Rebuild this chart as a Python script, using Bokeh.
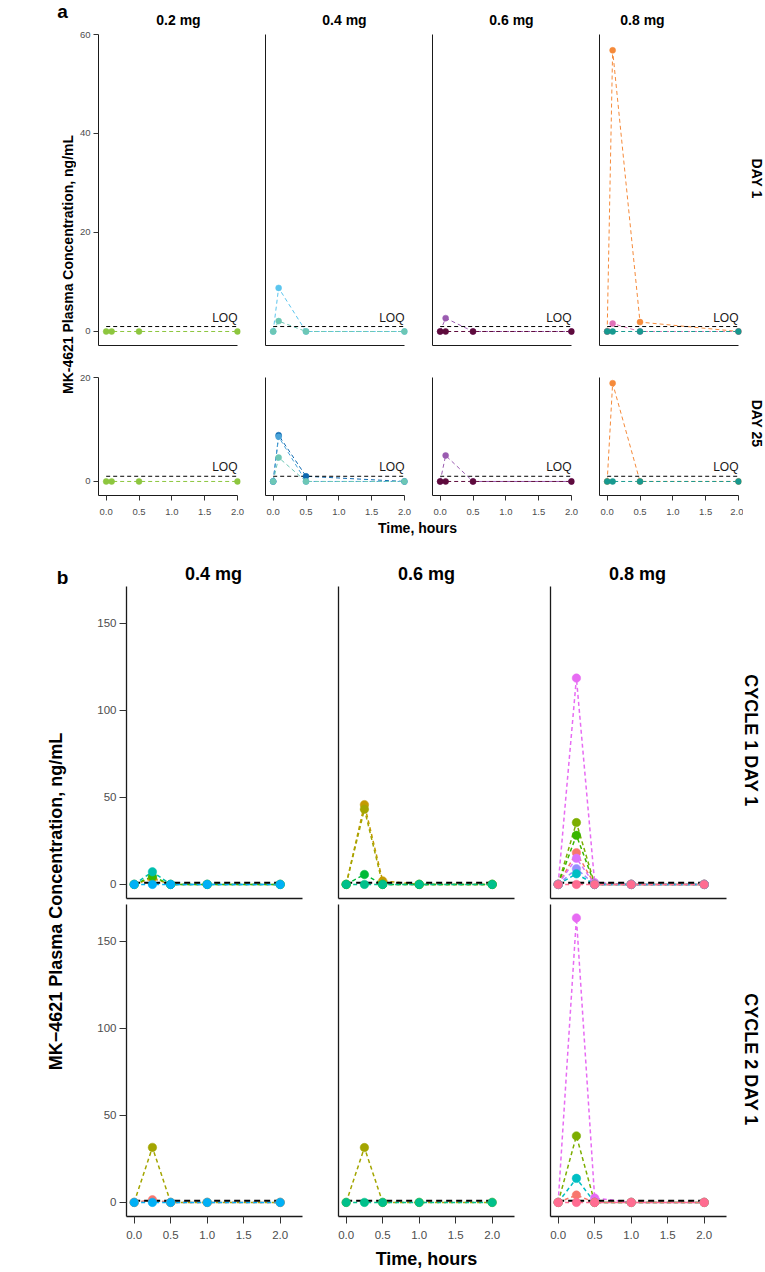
import math
from bokeh.plotting import figure
from bokeh.layouts import row, column
from bokeh.models import Range1d, FixedTicker, NumeralTickFormatter
from bokeh.core.properties import value
from bokeh.embed import file_html
from bokeh.resources import INLINE

FONT = "Liberation Sans"

# ---------------- data : panel a ----------------
TIME_A = [0.0, 0.083, 0.5, 2.0]
LOQ_A = 1.0
DOSES_A = ["0.2 mg", "0.4 mg", "0.6 mg", "0.8 mg"]
DAYS_A = ["DAY 1", "DAY 25"]
YTICKS_A_DAY1 = [0, 20, 40, 60]
YTICKS_A_DAY25 = [0, 20]
XTICKS = [0.0, 0.5, 1.0, 1.5, 2.0]

A_DAY1_02 = [[0, 0, 0, 0]]
A_DAY1_04 = [[0, 8.8, 0, 0], [0, 2.1, 0, 0]]
A_DAY1_06 = [[0, 2.7, 0, 0], [0, 0, 0, 0]]
A_DAY1_08 = [[0, 56.8, 1.9, 0], [0, 1.6, 0, 0], [0, 0, 0, 0]]
A_DAY25_02 = [[0, 0, 0, 0]]
A_DAY25_04 = [[0, 8.9, 1.0, 0], [0, 8.6, 0, 0], [0, 4.6, 0, 0]]
A_DAY25_06 = [[0, 5.0, 0, 0], [0, 0, 0, 0]]
A_DAY25_08 = [[0, 18.9, 0, 0], [0, 0, 0, 0]]

# ---------------- data : panel b ----------------
TIME_B = [0.0, 0.25, 0.5, 1.0, 2.0]
LOQ_B = 1.0
DOSES_B = ["0.4 mg", "0.6 mg", "0.8 mg"]
CYCLES_B = ["CYCLE 1 DAY 1", "CYCLE 2 DAY 1"]
YTICKS_B = [0, 50, 100, 150]

B_C1_04 = [[0, 3.5, 0, 0, 0], [0, 4.5, 0, 0, 0], [0, 7.2, 0, 0, 0], [0, 0, 0, 0, 0]]
B_C1_06 = [[0, 45.8, 2.0, 0, 0], [0, 43.2, 0, 0, 0], [0, 5.7, 0, 0, 0], [0, 0, 0, 0, 0]]
B_C1_08 = [[0, 118.5, 1.0, 0, 0], [0, 35.5, 0, 0, 0], [0, 28.2, 0, 0, 0], [0, 18.2, 0, 0, 0],
           [0, 15.0, 0, 0, 0], [0, 9.0, 0, 0, 0], [0, 6.1, 0, 0, 0], [0, 0, 0, 0, 0]]
B_C2_04 = [[0, 31.6, 0, 0, 0], [0, 1.5, 0, 0, 0], [0, 0, 0, 0, 0]]
B_C2_06 = [[0, 31.5, 0, 0, 0], [0, 0, 0, 0, 0]]
B_C2_08 = [[0, 163.4, 2.5, 0, 0], [0, 38.2, 0, 0, 0], [0, 13.8, 0, 0, 0], [0, 4.2, 0, 0, 0], [0, 0, 0, 0, 0]]

# ---------------- colours (styles) ----------------
COL_A_DAY1 = [["#8dc63f"], ["#5bc5ee", "#6dc7b5"], ["#9a5bb0", "#5e0b3c"], ["#f58a3a", "#e070b8", "#17998f"]]
COL_A_DAY25 = [["#8dc63f"], ["#0d68b0", "#4aa3d8", "#6dc7b5"], ["#9a5bb0", "#5e0b3c"], ["#f58a3a", "#17998f"]]
COL_B_C1 = [["#D89000", "#39B600", "#00BFAE", "#00B0F6"],
            ["#C49A00", "#A3A500", "#00BA38", "#00C08B"],
            ["#E76BF3", "#7CAE00", "#39B600", "#F8766D", "#DB72FB", "#9590FF", "#00BFC4", "#FF6C91"]]
COL_B_C2 = [["#A3A500", "#F8766D", "#00B0F6"],
            ["#A3A500", "#00C08B"],
            ["#E76BF3", "#7CAE00", "#00BFC4", "#F8766D", "#FF6C91"]]


def canvas(w, h):
    p = figure(width=w, height=h, x_range=Range1d(0, w), y_range=Range1d(h, 0),
               x_axis_type=None, y_axis_type=None, output_backend="svg",
               toolbar_location=None, min_border=0)
    p.min_border_left = p.min_border_right = p.min_border_top = p.min_border_bottom = 0
    p.outline_line_color = None
    p.background_fill_color = "white"
    p.border_fill_color = "white"
    return p


def put_text(p, x, y, txt, size, bold=True, angle=0.0):
    p.text(x=[x], y=[y], text=[txt], text_font=value(FONT), text_font_size=size,
           text_font_style="bold" if bold else "normal", text_color="black",
           text_align="center", text_baseline="middle", angle=angle)


def panel(w, h, xr, yr, bl, br, bt, bb, xticks, yticks, tick_out, lab_size, axis_lw,
          x_standoff, xbounds=None):
    p = figure(width=w, height=h, x_range=Range1d(*xr), y_range=Range1d(*yr),
               output_backend="svg", toolbar_location=None,
               min_border_left=bl, min_border_right=br, min_border_top=bt, min_border_bottom=bb)
    p.outline_line_color = None
    p.grid.visible = False
    p.background_fill_color = "white"
    for ax in (p.xaxis[0], p.yaxis[0]):
        ax.axis_line_color = "#1a1a1a"
        ax.axis_line_width = axis_lw
        ax.major_tick_line_color = "#333333"
        ax.major_tick_out = tick_out
        ax.major_tick_in = 0
        ax.minor_tick_line_color = None
        ax.major_label_text_font = FONT
        ax.major_label_text_font_size = lab_size
        ax.major_label_text_color = "#4d4d4d"
        ax.major_label_standoff = 3
    p.xaxis[0].major_label_standoff = x_standoff
    p.xaxis[0].ticker = FixedTicker(ticks=xticks)
    p.yaxis[0].ticker = FixedTicker(ticks=yticks)
    p.xaxis[0].formatter = NumeralTickFormatter(format="0.0")
    if xbounds is not None:
        p.xaxis[0].bounds = xbounds
    return p


def draw(p, t, series, colors, loq, size, lw, dash, loq_lw, loq_dash, loq_text):
    for ys, c in zip(series, colors):
        p.line(t, ys, line_color=c, line_width=lw, line_dash=dash)
    p.line([t[0], t[-1]], [loq, loq], line_color="black", line_width=loq_lw, line_dash=loq_dash)
    if loq_text:
        p.text(x=[t[-1]], y=[loq], text=["LOQ"], text_font=value(FONT), text_font_size="12px",
               text_color="#1a1a1a", text_align="right", text_baseline="middle", y_offset=-9)
    for ys, c in zip(series, colors):
        p.scatter(t, ys, size=size, fill_color=c, line_color=c, line_width=0.5)


# ================= panel a =================
XR_A = (-0.117, 2.046)
YR_A1 = (-2.83, 60.0)
YR_A2 = (-2.7, 20.0)
WA = [174, 167, 167, 159]
BLA = [22, 15, 15, 15]
BRA = [10, 10, 10, 2]
data_a1 = [A_DAY1_02, A_DAY1_04, A_DAY1_06, A_DAY1_08]
data_a2 = [A_DAY25_02, A_DAY25_04, A_DAY25_06, A_DAY25_08]

row1a, row2a = [], []
for i in range(4):
    p = panel(WA[i], 328, XR_A, YR_A1, BLA[i], BRA[i], 5, 12, [],
              YTICKS_A_DAY1 if i == 0 else [], 5, "9.5px", 1.0, 8, xbounds=(XR_A[0], 2.0))
    draw(p, TIME_A, data_a1[i], COL_A_DAY1[i], LOQ_A, 6, 1.0, "4 3", 1.0, "4 3", True)
    row1a.append(p)
    q = panel(WA[i], 162, XR_A, YR_A2, BLA[i], BRA[i], 20, 24, XTICKS,
              YTICKS_A_DAY25 if i == 0 else [], 5, "9.5px", 1.0, 8, xbounds=(XR_A[0], 2.0))
    draw(q, TIME_A, data_a2[i], COL_A_DAY25[i], LOQ_A, 6, 1.0, "4 3", 1.0, "4 3", True)
    row2a.append(q)

top_a = canvas(sum(WA), 29)
for x, d in zip([102, 268, 435, 566], DOSES_A):
    put_text(top_a, x, 19.5, d, "14px")
bot_a = canvas(sum(WA), 21)
put_text(bot_a, 341, 8, "Time, hours", "14px")
left_a = canvas(76, 540)
put_text(left_a, 62, 11, "a", "19px")
put_text(left_a, 67, 264, "MK-4621 Plasma Concentration, ng/mL", "14px", angle=math.pi / 2)
right_a = canvas(21, 540)
put_text(right_a, 13.5, 178, DAYS_A[0], "14px", angle=-math.pi / 2)
put_text(right_a, 13.5, 423, DAYS_A[1], "14px", angle=-math.pi / 2)

block_a = row(left_a, column(top_a, row(*row1a), row(*row2a), bot_a), right_a)

# ================= panel b =================
XR_B = (-0.105, 2.306)
YR_B = (-8.1, 171.1)
WB = [230, 212, 204]
BLB = [36, 18, 18]
BRB = [18, 18, 10]
data_b1 = [B_C1_04, B_C1_06, B_C1_08]
data_b2 = [B_C2_04, B_C2_06, B_C2_08]

row1b, row2b = [], []
for i in range(3):
    p = panel(WB[i], 315, XR_B, YR_B, BLB[i], BRB[i], 0, 3, [],
              YTICKS_B if i == 0 else [], 7, "11.5px", 1.3, 7)
    draw(p, TIME_B, data_b1[i], COL_B_C1[i], LOQ_B, 8.5, 1.5, "4 3", 2.0, "6 4", False)
    row1b.append(p)
    q = panel(WB[i], 341, XR_B, YR_B, BLB[i], BRB[i], 3, 26, XTICKS,
              YTICKS_B if i == 0 else [], 7, "11.5px", 1.3, 7)
    draw(q, TIME_B, data_b2[i], COL_B_C2[i], LOQ_B, 8.5, 1.5, "4 3", 2.0, "6 4", False)
    row2b.append(q)

top_b = canvas(sum(WB), 46)
for x, d in zip([123, 336, 547], DOSES_B):
    put_text(top_b, x, 33, d, "18px")
bot_b = canvas(sum(WB), 29)
put_text(bot_b, 336, 16, "Time, hours", "18px")
left_b = canvas(90, 731)
put_text(left_b, 62, 37, "b", "19px")
put_text(left_b, 55, 361, "MK\u22124621 Plasma Concentration, ng/mL", "18px", angle=math.pi / 2)
right_b = canvas(28, 731)
put_text(right_b, 14.5, 200, CYCLES_B[0], "18px", angle=-math.pi / 2)
put_text(right_b, 14.5, 519, CYCLES_B[1], "18px", angle=-math.pi / 2)

block_b = row(left_b, column(top_b, row(*row1b), row(*row2b), bot_b), right_b)

layout = column(block_a, block_b)
open("out.html", "w").write(file_html(layout, INLINE))
